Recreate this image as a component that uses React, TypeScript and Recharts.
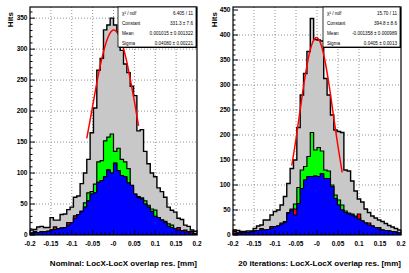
import React from 'react';
import { Area, CartesianGrid, ComposedChart, Line, XAxis, YAxis } from 'recharts';

// 50 bins of 0.008 mm from -0.2 to 0.2
const BIN_LOW = -0.2;
const BIN_WIDTH = 0.008;

const NOMINAL_ALL = [8, 9, 13, 14, 12, 12, 28, 24, 24, 33, 34, 41, 45, 61, 63, 83, 100, 122, 165, 205, 266, 285, 331, 339, 350, 339, 328, 298, 276, 262, 240, 225, 168, 170, 135, 115, 100, 94, 76, 70, 61, 45, 40, 37, 27, 25, 16, 14, 8, 6];
const NOMINAL_GREEN = [3, 4, 4, 5, 5, 6, 8, 9, 10, 11, 12, 16, 20, 27, 33, 38, 52, 68, 70, 82, 118, 120, 152, 158, 163, 135, 140, 122, 118, 107, 76, 58, 62, 60, 55, 48, 42, 40, 28, 24, 22, 18, 16, 10, 8, 7, 5, 5, 3, 2];
const NOMINAL_RED = [3, 6, 4, 5, 5, 6, 8, 13, 10, 11, 12, 20, 20, 31, 33, 38, 45, 55, 66, 68, 85, 88, 94, 105, 100, 116, 104, 96, 94, 84, 80, 66, 60, 58, 50, 45, 38, 30, 28, 24, 20, 14, 12, 10, 12, 7, 8, 5, 6, 2];
const NOMINAL_BLUE = [3, 4, 4, 5, 5, 6, 8, 9, 10, 11, 12, 16, 20, 27, 33, 38, 45, 55, 66, 68, 85, 88, 94, 105, 100, 116, 104, 96, 94, 84, 80, 66, 60, 58, 50, 45, 38, 30, 28, 24, 20, 14, 12, 10, 8, 7, 5, 5, 3, 2];

const ITER_ALL = [10, 9, 7, 7, 8, 8, 13, 18, 20, 30, 30, 40, 47, 50, 60, 77, 103, 133, 150, 215, 280, 323, 367, 433, 391, 390, 388, 313, 280, 240, 210, 207, 205, 130, 128, 108, 88, 72, 66, 52, 45, 38, 34, 30, 27, 23, 19, 16, 13, 10];
const ITER_GREEN = [3, 4, 4, 5, 5, 6, 8, 9, 10, 10, 11, 14, 17, 18, 24, 27, 45, 52, 62, 95, 130, 137, 157, 205, 170, 175, 168, 130, 128, 100, 80, 70, 60, 48, 44, 42, 38, 34, 28, 24, 20, 18, 15, 12, 10, 9, 8, 7, 6, 4];
const ITER_RED = [7, 4, 6, 5, 5, 6, 8, 9, 13, 10, 11, 17, 17, 18, 22, 25, 43, 50, 52, 63, 93, 110, 117, 117, 118, 117, 123, 113, 113, 97, 73, 60, 50, 45, 42, 40, 36, 42, 28, 24, 24, 18, 15, 15, 10, 9, 8, 7, 6, 4];
const ITER_BLUE = [3, 4, 4, 5, 5, 6, 8, 9, 10, 10, 11, 14, 17, 18, 22, 25, 43, 50, 40, 63, 93, 110, 117, 117, 118, 117, 123, 113, 113, 97, 73, 60, 50, 45, 42, 40, 36, 32, 28, 24, 20, 18, 15, 12, 10, 9, 8, 7, 6, 4];

// gaussian fit curves
const NOMINAL_FIT_X = [-0.064, -0.055, -0.045, -0.035, -0.025, -0.015, -0.005, 0.001, 0.01, 0.02, 0.03, 0.04, 0.05, 0.06];
const NOMINAL_FIT_Y = [156, 189, 227, 263, 293, 316, 329, 331, 326, 310, 285, 252, 216, 176];
const ITER_FIT_X = [-0.06, -0.05, -0.04, -0.03, -0.02, -0.01, -0.0014, 0.01, 0.02, 0.03, 0.04, 0.05, 0.06];
const ITER_FIT_Y = [139, 192, 251, 308, 356, 386, 395, 380, 344, 293, 234, 177, 125];

const X_MAJOR = [-0.2, -0.15, -0.1, -0.05, 0, 0.05, 0.1, 0.15, 0.2];
const X_LABELS = ['-0.2', '-0.15', '-0.1', '-0.05', '-0', '0.05', '0.1', '0.15', '0.2'];
const NOMINAL_Y_MAJOR = [0, 50, 100, 150, 200, 250, 300, 350];
const ITER_Y_MAJOR = [0, 50, 100, 150, 200, 250, 300, 350, 400];

const NOMINAL_STATS = [
  ['\u03c7\u00b2 / ndf', '6.405 / 11'],
  ['Constant', '331.3 \u00b1 7.6'],
  ['Mean', '0.001015 \u00b1 0.001322'],
  ['Sigma', '0.04080 \u00b1 0.00221'],
];
const ITER_STATS = [
  ['\u03c7\u00b2 / ndf', '15.70 / 11'],
  ['Constant', '394.8 \u00b1 8.6'],
  ['Mean', '-0.001358 \u00b1 0.000989'],
  ['Sigma', '0.0405 \u00b1 0.0013'],
];

const FONT = '"Liberation Sans", Arial, sans-serif';

const X_TICKS = Array.from({ length: 41 }, (_, i) => Math.round(-20 + i) / 100);

function buildRows(all: number[], green: number[], red: number[], blue: number[]) {
  const rows = all.map((v, i) => ({
    x: Math.round((BIN_LOW + i * BIN_WIDTH) * 1e6) / 1e6,
    all: v,
    green: green[i],
    red: red[i],
    blue: blue[i],
  }));
  const last = rows[rows.length - 1];
  rows.push({ ...last, x: 0.2 });
  return rows;
}

function buildFit(xs: number[], ys: number[]) {
  return xs.map((x, i) => ({ x, fit: ys[i] }));
}

function XTick(props: any) {
  const { x, y, payload } = props;
  const idx = X_MAJOR.findIndex((m) => Math.abs(m - payload.value) < 1e-6);
  const major = idx >= 0;
  return (
    <g>
      <line x1={x} x2={x} y1={y} y2={y - (major ? 5 : 2.5)} stroke="#000" strokeWidth={1} />
      {major && (
        <text x={x} y={y + 10.5} textAnchor="middle" fontSize={6.5} fontWeight="bold" fontFamily={FONT} fill="#000">
          {X_LABELS[idx]}
        </text>
      )}
    </g>
  );
}

function YTick(props: any) {
  const { x, y, payload } = props;
  const major = payload.value % 50 === 0;
  return (
    <g>
      <line x1={x} x2={x + (major ? 5 : 2.5)} y1={y} y2={y} stroke="#000" strokeWidth={1} />
      {major && (
        <text x={x - 2.5} y={y + 2.3} textAnchor="end" fontSize={6.5} fontWeight="bold" fontFamily={FONT} fill="#000">
          {payload.value}
        </text>
      )}
    </g>
  );
}

type PanelProps = {
  rows: any[];
  fit: any[];
  yMax: number;
  yMajor: number[];
  yAxisWidth: number;
};

function Panel({ rows, fit, yMax, yMajor, yAxisWidth }: PanelProps) {
  const yTicks = Array.from({ length: Math.floor(yMax / 10) + 1 }, (_, i) => i * 10);
  return (
    <ComposedChart width={205} height={273} data={rows} margin={{ top: 7, right: 8, bottom: 0, left: 0 }}>
      <CartesianGrid
        horizontalValues={yMajor.slice(1)}
        verticalValues={X_MAJOR.slice(1, -1)}
        stroke="#777"
        strokeDasharray="1 2"
        strokeWidth={0.8}
      />
      <XAxis
        dataKey="x"
        type="number"
        domain={[-0.2, 0.2]}
        allowDataOverflow
        ticks={X_TICKS}
        interval={0}
        tick={<XTick />}
        tickSize={0}
        tickMargin={0}
        axisLine={false}
        tickLine={false}
        height={38}
      />
      <YAxis
        type="number"
        domain={[0, yMax]}
        allowDataOverflow
        ticks={yTicks}
        interval={0}
        tick={<YTick />}
        tickSize={0}
        tickMargin={0}
        axisLine={false}
        tickLine={false}
        width={yAxisWidth}
      />
      <Area type="stepAfter" dataKey="all" stroke="#000" strokeWidth={1.4} fill="#c8c8c8" fillOpacity={1} isAnimationActive={false} />
      <Area type="stepAfter" dataKey="green" stroke="#000" strokeWidth={1.2} fill="#00ff00" fillOpacity={1} isAnimationActive={false} />
      <Area type="stepAfter" dataKey="red" stroke="#000" strokeWidth={1.2} fill="#ff0000" fillOpacity={1} isAnimationActive={false} />
      <Area type="stepAfter" dataKey="blue" stroke="#000" strokeWidth={1} fill="#0000ff" fillOpacity={1} isAnimationActive={false} />
      <Line data={fit} dataKey="fit" type="monotone" stroke="#ff0000" strokeWidth={1.5} dot={false} activeDot={false} isAnimationActive={false} />
    </ComposedChart>
  );
}

function StatsBox({ x, y, w, h, rows }: { x: number; y: number; w: number; h: number; rows: string[][] }) {
  return (
    <g>
      <rect x={x + 1} y={y + 1} width={w} height={h} fill="#000" />
      <rect x={x} y={y} width={w} height={h} fill="#fff" stroke="#000" strokeWidth={0.8} />
      {rows.map((r, i) => (
        <g key={r[0]}>
          <text x={x + 4} y={y + 7.5 + i * 10} fontSize={4.6} fontFamily={FONT} fill="#000">
            {r[0]}
          </text>
          <text x={x + w - 3} y={y + 7.5 + i * 10} fontSize={4.6} fontFamily={FONT} fill="#000" textAnchor="end">
            {r[1]}
          </text>
        </g>
      ))}
    </g>
  );
}

export default function App() {
  const nominalRows = buildRows(NOMINAL_ALL, NOMINAL_GREEN, NOMINAL_RED, NOMINAL_BLUE);
  const iterRows = buildRows(ITER_ALL, ITER_GREEN, ITER_RED, ITER_BLUE);
  return (
    <div style={{ position: 'absolute', left: 0, top: 0, width: 409, height: 273, background: '#fff', overflow: 'hidden' }}>
      <div style={{ position: 'absolute', left: 0, top: 0 }}>
        <Panel rows={nominalRows} fit={buildFit(NOMINAL_FIT_X, NOMINAL_FIT_Y)} yMax={368} yMajor={NOMINAL_Y_MAJOR} yAxisWidth={30} />
      </div>
      <div style={{ position: 'absolute', left: 204, top: 0 }}>
        <Panel rows={iterRows} fit={buildFit(ITER_FIT_X, ITER_FIT_Y)} yMax={456} yMajor={ITER_Y_MAJOR} yAxisWidth={29} />
      </div>
      <svg width={409} height={273} style={{ position: 'absolute', left: 0, top: 0, pointerEvents: 'none' }}>
        <rect x={30} y={7} width={167} height={228} fill="none" stroke="#000" strokeWidth={1.2} />
        <rect x={233} y={7} width={168} height={228} fill="none" stroke="#000" strokeWidth={1.2} />
        <StatsBox x={118} y={7} w={78} h={40} rows={NOMINAL_STATS} />
        <StatsBox x={323} y={7} w={77} h={40} rows={ITER_STATS} />
        <text transform="translate(13,12) rotate(-90)" textAnchor="end" fontSize={8} fontWeight="bold" fontFamily={FONT}>
          Hits
        </text>
        <text transform="translate(217,12) rotate(-90)" textAnchor="end" fontSize={8} fontWeight="bold" fontFamily={FONT}>
          Hits
        </text>
        <text x={197} y={266} textAnchor="end" fontSize={8} fontWeight="bold" fontFamily={FONT}>
          Nominal: LocX-LocX overlap res. [mm]
        </text>
        <text x={401} y={266} textAnchor="end" fontSize={8} fontWeight="bold" fontFamily={FONT}>
          20 iterations: LocX-LocX overlap res. [mm]
        </text>
      </svg>
    </div>
  );
}
